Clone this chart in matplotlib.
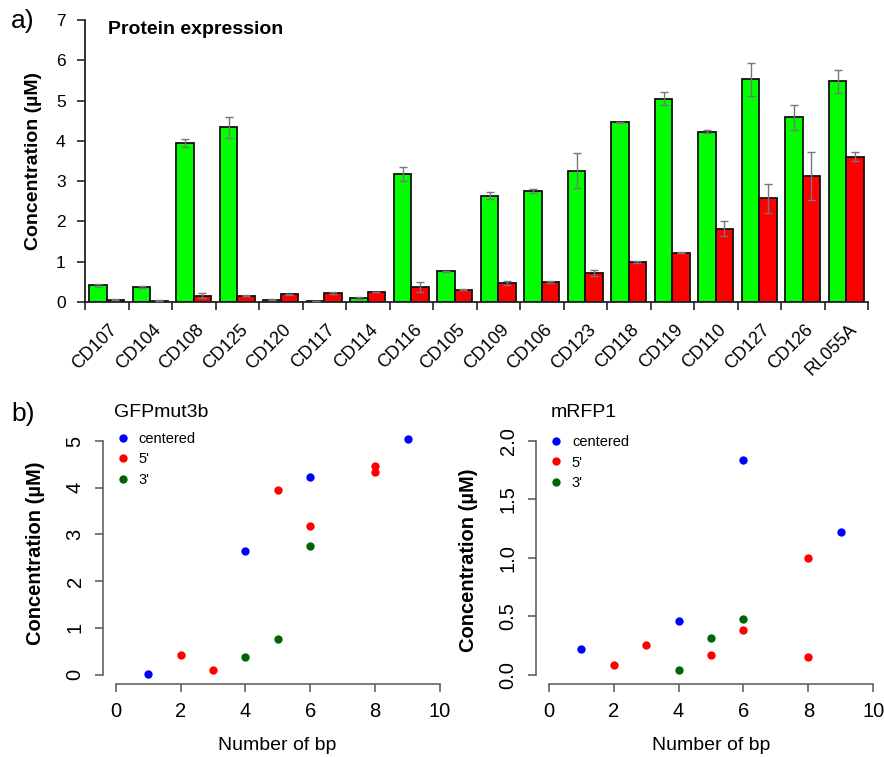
import matplotlib
matplotlib.use("Agg")
import matplotlib.pyplot as plt
import numpy as np

plt.rcParams['font.family'] = ['Liberation Sans', 'DejaVu Sans']

# panel a: protein expression per construct
constructs = ["CD107", "CD104", "CD108", "CD125", "CD120", "CD117", "CD114", "CD116", "CD105",
              "CD109", "CD106", "CD123", "CD118", "CD119", "CD110", "CD127", "CD126", "RL055A"]
gfp = [0.41, 0.37, 3.95, 4.34, 0.06, 0.02, 0.10, 3.18, 0.76,
       2.64, 2.75, 3.26, 4.46, 5.05, 4.23, 5.53, 4.58, 5.48]
gfp_err = [0.03, 0.03, 0.10, 0.26, 0.01, 0.0, 0.02, 0.18, 0.02,
           0.08, 0.05, 0.44, 0.01, 0.16, 0.03, 0.41, 0.31, 0.29]
rfp = [0.06, 0.03, 0.16, 0.16, 0.19, 0.22, 0.25, 0.38, 0.31,
       0.47, 0.50, 0.72, 1.00, 1.22, 1.82, 2.57, 3.13, 3.61]
rfp_err = [0.01, 0.01, 0.06, 0.01, 0.01, 0.03, 0.01, 0.12, 0.01,
           0.05, 0.03, 0.07, 0.03, 0.01, 0.19, 0.37, 0.60, 0.12]

# panel b: concentration vs number of bp
gfp_centered_x = [1, 4, 6, 9]
gfp_centered_y = [0.02, 2.64, 4.23, 5.05]
gfp_5p_x = [2, 3, 5, 6, 8, 8]
gfp_5p_y = [0.41, 0.10, 3.95, 3.18, 4.46, 4.34]
gfp_3p_x = [4, 5, 6]
gfp_3p_y = [0.37, 0.76, 2.75]

rfp_centered_x = [1, 4, 6, 9]
rfp_centered_y = [0.22, 0.46, 1.84, 1.22]
rfp_5p_x = [2, 3, 5, 6, 8, 8]
rfp_5p_y = [0.08, 0.25, 0.17, 0.38, 1.00, 0.15]
rfp_3p_x = [4, 5, 6]
rfp_3p_y = [0.04, 0.31, 0.48]

W, H = 884, 757
fig = plt.figure(figsize=(W / 100, H / 100), dpi=100)


def px_axes(left, top, right, bottom):
    return fig.add_axes([left / W, 1 - bottom / H, (right - left) / W, (bottom - top) / H])


# ---- a) bar chart ----
ax = px_axes(85, 20, 868, 302)
idx = np.arange(len(constructs))
ax.bar(idx + 0.3, gfp, width=0.4, color='#00ff00', edgecolor='#111111', linewidth=1.3, zorder=2)
ax.bar(idx + 0.7, rfp, width=0.4, color='#ff0000', edgecolor='#111111', linewidth=1.3, zorder=2)
ax.errorbar(idx + 0.3, gfp, yerr=gfp_err, fmt='none', ecolor='#777777', elinewidth=1,
            capsize=3.2, capthick=1, zorder=3)
ax.errorbar(idx + 0.7, rfp, yerr=rfp_err, fmt='none', ecolor='#777777', elinewidth=1,
            capsize=3.2, capthick=1, zorder=3)
ax.set_xlim(0, 18)
ax.set_ylim(0, 7)
for s in ['top', 'right']:
    ax.spines[s].set_visible(False)
for s in ['left', 'bottom']:
    ax.spines[s].set_color('#222222')
    ax.spines[s].set_linewidth(1.3)
ax.set_xticks(np.arange(19))
ax.set_xticklabels([])
ax.set_yticks(range(8))
ax.tick_params(axis='both', direction='out', length=6, width=1.2, color='#222222',
               labelsize=12.5, pad=8)
for i, name in enumerate(constructs):
    ax.annotate(name, xy=(i + 0.55, 0), xycoords='data', xytext=(0, -19),
                textcoords='offset pixels', rotation=45, rotation_mode='anchor',
                ha='right', va='top', fontsize=13)
ax.text(0.03, 0.965, "Protein expression", transform=ax.transAxes, fontsize=14,
        fontweight='bold', va='center', ha='left')
fig.text(34 / W, 1 - 161 / H, "Concentration (µM)", rotation=90, fontsize=14,
         fontweight='bold', ha='center', va='center')
fig.text(11 / W, 1 - 21 / H, "a)", fontsize=19, ha='left', va='center')


# ---- b) scatter panels ----
def scatter_panel(ax, cx, cy, fx, fy, tx, ty, ylim, yticks, yticklabels):
    ax.plot(cx, cy, 'o', color='#0000ff', ms=6, mec='none', label='centered', clip_on=False)
    ax.plot(fx, fy, 'o', color='#ff0000', ms=6, mec='none', label="5'", clip_on=False)
    ax.plot(tx, ty, 'o', color='#006400', ms=6, mec='none', label="3'", clip_on=False)
    ax.set_xlim(-0.4, 10.4)
    ax.set_ylim(*ylim)
    for s in ['top', 'right']:
        ax.spines[s].set_visible(False)
    for s in ['left', 'bottom']:
        ax.spines[s].set_color('#555555')
        ax.spines[s].set_linewidth(1.1)
    ax.spines['left'].set_bounds(yticks[0], yticks[-1])
    ax.spines['bottom'].set_bounds(0, 10)
    ax.set_xticks(range(0, 11, 2))
    ax.set_yticks(yticks)
    ax.set_yticklabels(yticklabels)
    ax.tick_params(axis='both', direction='out', length=6, width=1.1, color='#555555',
                   labelsize=14.5, pad=7)
    ax.tick_params(axis='y', labelrotation=90)
    for lbl in ax.get_yticklabels():
        lbl.set_va('center')
    ax.legend(loc='upper left', bbox_to_anchor=(0.02, 1.01), frameon=False, fontsize=10.5,
              handlelength=1.0, handletextpad=0.6, labelspacing=0.45, borderaxespad=0,
              markerscale=1.0)


ax_l = px_axes(102.7, 428.4, 453, 684)
scatter_panel(ax_l, gfp_centered_x, gfp_centered_y, gfp_5p_x, gfp_5p_y, gfp_3p_x, gfp_3p_y,
              (-0.2, 5.27), [0, 1, 2, 3, 4, 5], ["0", "1", "2", "3", "4", "5"])
ax_r = px_axes(535.7, 431.7, 886.3, 684)
scatter_panel(ax_r, rfp_centered_x, rfp_centered_y, rfp_5p_x, rfp_5p_y, rfp_3p_x, rfp_3p_y,
              (-0.08, 2.08), [0, 0.5, 1.0, 1.5, 2.0], ["0.0", "0.5", "1.0", "1.5", "2.0"])

fig.text(277 / W, 1 - 745 / H, "Number of bp", fontsize=14, ha='center', va='center')
fig.text(711 / W, 1 - 745 / H, "Number of bp", fontsize=14, ha='center', va='center')
fig.text(114 / W, 1 - 412 / H, "GFPmut3b", fontsize=14, ha='left', va='center')
fig.text(551 / W, 1 - 412 / H, "mRFP1", fontsize=14, ha='left', va='center')
fig.text(11 / W, 1 - 414 / H, "b)", fontsize=19, ha='left', va='center')
fig.text(36 / W, 1 - 553 / H, "Concentration (µM)", rotation=90, fontsize=14.5,
         fontweight='bold', ha='center', va='center')
fig.text(468 / W, 1 - 560 / H, "Concentration (µM)", rotation=90, fontsize=14.5,
         fontweight='bold', ha='center', va='center')

fig.savefig("out.png", dpi=100)
